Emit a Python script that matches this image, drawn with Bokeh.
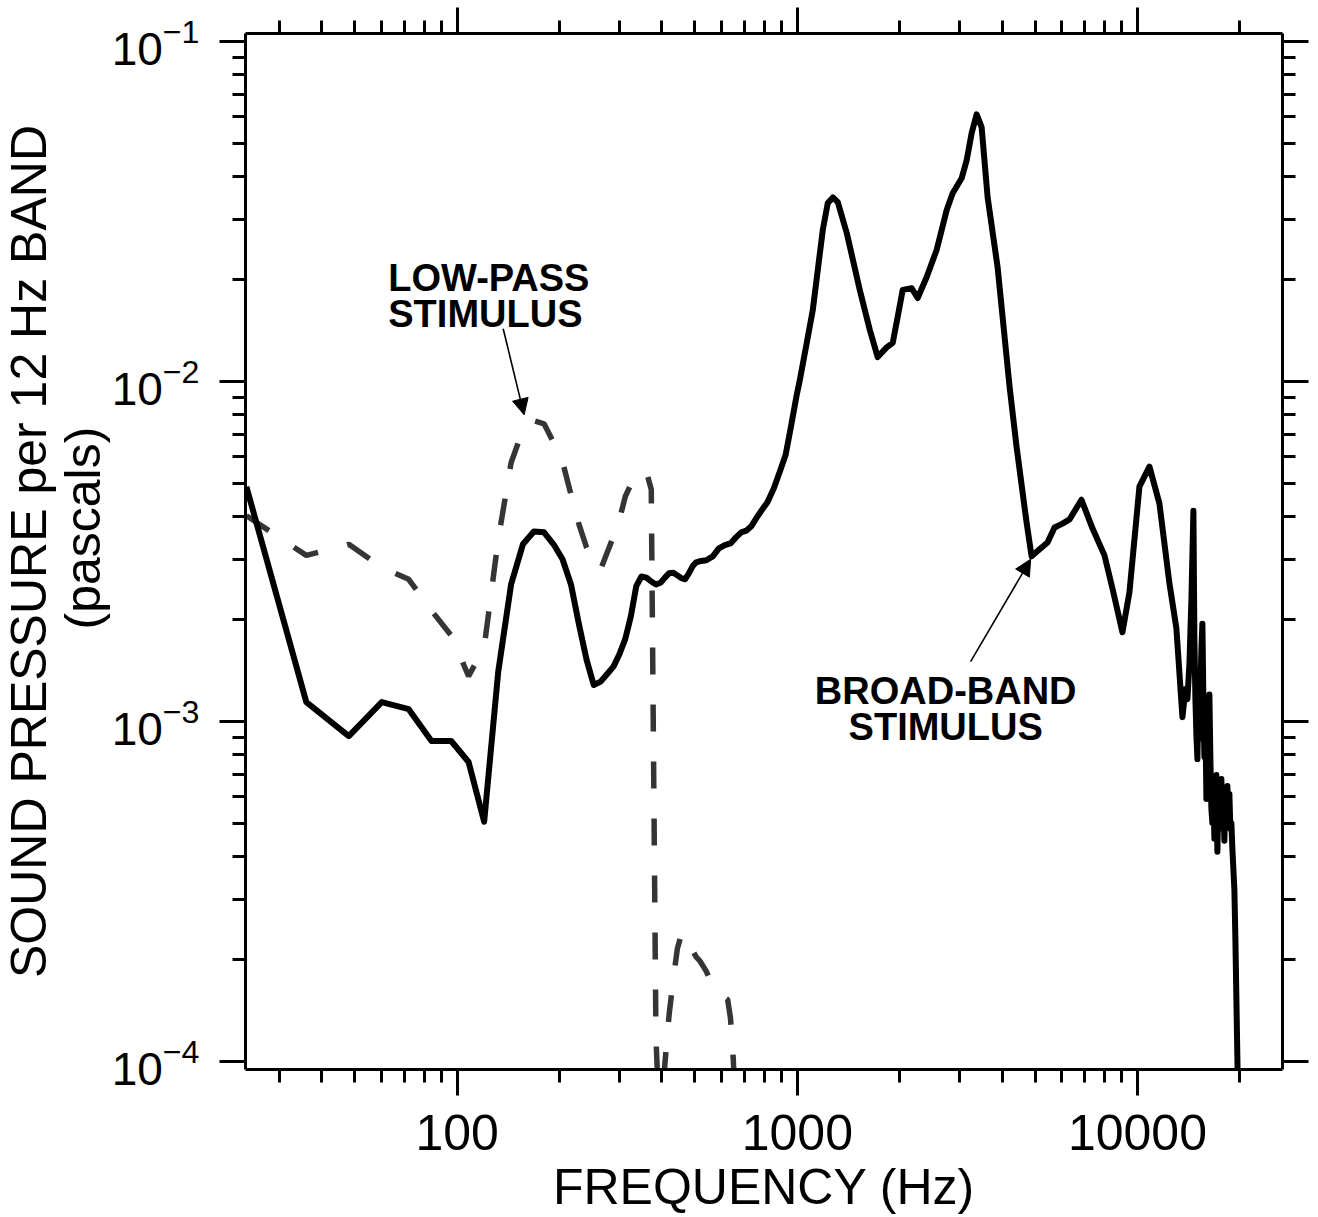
import math
from bokeh.plotting import figure
from bokeh.models import (FixedTicker, LogAxis, Label, Arrow, NormalHead,
                          CustomJSTickFormatter, Title)
from bokeh.embed import file_html
from bokeh.resources import INLINE

# ---------------- data ----------------
# Broad-band stimulus (solid line): frequency in Hz, sound pressure in Pa
broad_freq = [24, 36, 48, 60, 72, 84, 96, 108, 120, 132, 144, 156, 168, 180,
              192, 204, 216, 228, 240, 252, 264, 276, 288, 300, 312, 324, 336,
              348, 360, 372, 384, 396, 408, 420, 432, 444, 456, 468, 480, 492,
              504, 516, 540, 564, 588, 612, 636, 660, 684, 708, 732, 756, 780,
              816, 852, 888, 924, 960, 996, 1017, 1066, 1110, 1188, 1229, 1272,
              1315, 1398, 1526, 1633, 1723, 1831, 1908, 1973, 2041, 2169, 2259,
              2401, 2569, 2748, 2862, 3041, 3146, 3254, 3367, 3483, 3627, 3880,
              4208, 4411, 4721, 4884, 5156, 5441, 5704, 6021, 6315, 6846, 7375,
              8000, 8446, 9035, 9473, 10136, 10845, 11603, 12417, 13017,
              13560, 13838, 14028, 14218, 14412, 14607, 14706, 14806, 14907,
              15008, 15110, 15212, 15315, 15419, 15524, 15629, 15735, 15842,
              15950, 16058, 16167, 16276, 16387, 16498, 16610, 16723, 16836,
              16951, 17066, 17182, 17298, 17416, 17534, 17654, 17773, 17894,
              18016, 18138, 18261, 18385, 18510, 18636, 18762, 18889, 19018,
              19277, 19408, 19540, 19673, 19900]
broad_pa = [4.9e-3, 1.14e-3, 9.06e-4, 1.14e-3, 1.087e-3, 8.76e-4, 8.76e-4,
            7.60e-4, 5.07e-4, 1.40e-3, 2.53e-3, 3.32e-3, 3.62e-3, 3.60e-3,
            3.32e-3, 3.00e-3, 2.53e-3, 1.93e-3, 1.52e-3, 1.28e-3, 1.31e-3,
            1.38e-3, 1.45e-3, 1.58e-3, 1.75e-3, 2.04e-3, 2.50e-3, 2.67e-3,
            2.65e-3, 2.58e-3, 2.53e-3, 2.56e-3, 2.65e-3, 2.73e-3, 2.74e-3,
            2.69e-3, 2.64e-3, 2.62e-3, 2.73e-3, 2.86e-3, 2.94e-3, 2.96e-3,
            2.98e-3, 3.06e-3, 3.23e-3, 3.30e-3, 3.34e-3, 3.48e-3, 3.60e-3,
            3.64e-3, 3.75e-3, 3.95e-3, 4.14e-3, 4.41e-3, 4.84e-3, 5.43e-3,
            6.09e-3, 7.46e-3, 9.14e-3, 1.01e-2, 1.30e-2, 1.62e-2, 2.79e-2,
            3.35e-2, 3.48e-2, 3.37e-2, 2.73e-2, 1.86e-2, 1.42e-2, 1.18e-2,
            1.26e-2, 1.30e-2, 1.55e-2, 1.86e-2, 1.88e-2, 1.76e-2, 2.03e-2,
            2.44e-2, 3.19e-2, 3.58e-2, 3.96e-2, 4.47e-2, 5.37e-2, 6.11e-2,
            5.59e-2, 3.48e-2, 2.17e-2, 9.65e-3, 6.43e-3, 3.85e-3, 3.06e-3,
            3.21e-3, 3.36e-3, 3.72e-3, 3.82e-3, 3.93e-3, 4.49e-3, 3.70e-3,
            3.08e-3, 2.46e-3, 1.83e-3, 2.40e-3, 4.91e-3, 5.62e-3, 4.38e-3,
            2.55e-3, 1.88e-3,
            1.03e-3, 1.245e-3, 1.163e-3, 1.48e-3, 2.29e-3, 4.17e-3, 1.745e-3,
            1.163e-3, 9.12e-4, 7.75e-4, 1.163e-3, 8.88e-4, 1.245e-3, 1.63e-3,
            1.94e-3, 1.163e-3, 7.86e-4, 1.01e-3, 5.92e-4, 8.88e-4, 6.33e-4,
            1.20e-3, 7.75e-4, 5.53e-4, 5.03e-4, 6.33e-4, 4.52e-4, 6.33e-4,
            6.96e-4, 4.14e-4, 5.92e-4, 4.83e-4, 6.33e-4, 6.77e-4, 4.83e-4,
            5.92e-4, 4.46e-4, 6.33e-4, 5.53e-4, 6.46e-4, 5.17e-4, 6.12e-4,
            4.83e-4, 5.03e-4, 4.22e-4, 3.20e-4, 2.30e-4, 1.53e-4, 1.02e-4,
            5.0e-5]

# Low-pass stimulus (dashed line)
low_freq = [24, 36, 48, 60, 72, 84, 96, 108, 120, 132, 144, 156, 168, 180, 192,
            204, 216, 228, 240, 252, 264, 276, 288, 300, 312, 324, 336, 348,
            360, 372, 384, 396, 408, 420, 432, 444, 456, 468, 480, 492, 504,
            516, 528, 540, 552, 564, 576, 588, 600, 612, 624, 636, 648, 660, 672]
low_pa = [4.03e-3, 3.08e-3, 3.32e-3, 2.84e-3, 2.62e-3, 2.12e-3, 1.79e-3,
          1.36e-3, 1.65e-3, 3.43e-3, 5.77e-3, 7.22e-3, 7.67e-3, 7.51e-3,
          6.61e-3, 5.81e-3, 4.65e-3, 3.80e-3, 3.25e-3, 2.90e-3, 2.80e-3,
          3.14e-3, 3.50e-3, 3.93e-3, 4.59e-3, 4.98e-3, 5.21e-3, 5.43e-3,
          5.43e-3, 4.81e-3, 1.17e-4, 5.56e-5, 9.87e-5, 1.38e-4, 1.75e-4,
          2.15e-4, 2.36e-4, 2.38e-4, 2.27e-4, 2.12e-4, 2.03e-4, 1.98e-4,
          1.91e-4, 1.84e-4, 1.75e-4, 1.68e-4, 1.63e-4, 1.58e-4, 1.56e-4,
          1.54e-4, 1.52e-4, 1.34e-4, 1.02e-4, 6.8e-5, 5.0e-5]

# Axis ticks
x_major = [100, 1000, 10000]
x_minor = [30, 40, 50, 60, 70, 80, 90, 200, 300, 400, 500, 600, 700, 800, 900,
           2000, 3000, 4000, 5000, 6000, 7000, 8000, 9000, 20000]
y_major = [1e-4, 1e-3, 1e-2, 1e-1]
y_minor = [m * d for d in (1e-4, 1e-3, 1e-2) for m in range(2, 10)]

FONT = "Liberation Sans"

p = figure(width=1318, height=1217, x_axis_type="log", y_axis_type="log",
           x_range=(23.85, 26700), y_range=(9.47e-5, 0.1056),
           output_backend="svg", toolbar_location=None,
           min_border_left=245, min_border_right=36,
           min_border_top=33, min_border_bottom=146)
p.grid.visible = False
p.outline_line_color = None
p.background_fill_color = "white"
p.border_fill_color = "white"

p.line(low_freq, low_pa, line_color="#353535", line_width=5.5,
       line_dash="27 30")
p.line(broad_freq, broad_pa, line_color="black", line_width=6,
       line_join="round")


def style_axis(ax, major, minor):
    ax.ticker = FixedTicker(ticks=major, minor_ticks=minor)
    ax.axis_line_width = 3
    ax.axis_line_color = "black"
    ax.major_tick_line_width = 3
    ax.minor_tick_line_width = 3
    ax.major_tick_out = 26
    ax.major_tick_in = 0
    ax.minor_tick_out = 13
    ax.minor_tick_in = 0
    ax.major_label_text_font = FONT
    ax.major_label_text_color = "black"


xb = p.xaxis[0]
style_axis(xb, x_major, x_minor)
xb.formatter = CustomJSTickFormatter(code="return tick.toFixed(0)")
xb.major_label_text_font_size = "50px"
xb.major_label_standoff = 19
xb.axis_label = "FREQUENCY (Hz)"
xb.axis_label_text_font = FONT
xb.axis_label_text_font_style = "normal"
xb.axis_label_text_font_size = "50px"
xb.axis_label_text_color = "black"
xb.axis_label_standoff = 6

yl = p.yaxis[0]
style_axis(yl, y_major, y_minor)
yl.major_label_text_font_size = "46px"
yl.major_label_standoff = 20

xt = LogAxis()
style_axis(xt, x_major, x_minor)
xt.formatter = CustomJSTickFormatter(code="return ''")
xt.major_label_text_font_size = "1px"
xt.major_label_standoff = 0
p.add_layout(xt, "above")

yr = LogAxis()
style_axis(yr, y_major, y_minor)
yr.formatter = CustomJSTickFormatter(code="return ''")
yr.major_label_text_font_size = "1px"
yr.major_label_standoff = 0
p.add_layout(yr, "right")

# Y-axis title, two lines (inner line added first)
p.add_layout(Title(text="(pascals)", align="left", offset=440, standoff=-4,
                   text_font=FONT, text_font_style="normal",
                   text_font_size="50px", text_color="black"), "left")
p.add_layout(Title(text="SOUND PRESSURE per 12 Hz BAND", align="center",
                   offset=0, standoff=-5, text_font=FONT,
                   text_font_style="normal", text_font_size="50px",
                   text_color="black"), "left")

# Annotations
for txt, xv, yv, al in [("LOW-PASS", 62.7, 2.02e-2, "left"),
                        ("STIMULUS", 62.7, 1.58e-2, "left"),
                        ("BROAD-BAND", 2730, 1.23e-3, "center"),
                        ("STIMULUS", 2730, 9.63e-4, "center")]:
    p.add_layout(Label(x=xv, y=yv, text=txt, text_align=al,
                       text_baseline="alphabetic", text_font=FONT,
                       text_font_style="bold", text_font_size="38px",
                       text_color="black"))

p.add_layout(Arrow(x_start=136.5, y_start=1.43e-2, x_end=157.3, y_end=7.98e-3,
                   line_width=1.6, line_color="black",
                   end=NormalHead(size=16, fill_color="black",
                                  line_color="black", line_width=1)))
p.add_layout(Arrow(x_start=3232, y_start=1.50e-3, x_end=4852, y_end=3.00e-3,
                   line_width=1.6, line_color="black",
                   end=NormalHead(size=16, fill_color="black",
                                  line_color="black", line_width=1)))

open("out.html", "w").write(file_html(p, INLINE))
